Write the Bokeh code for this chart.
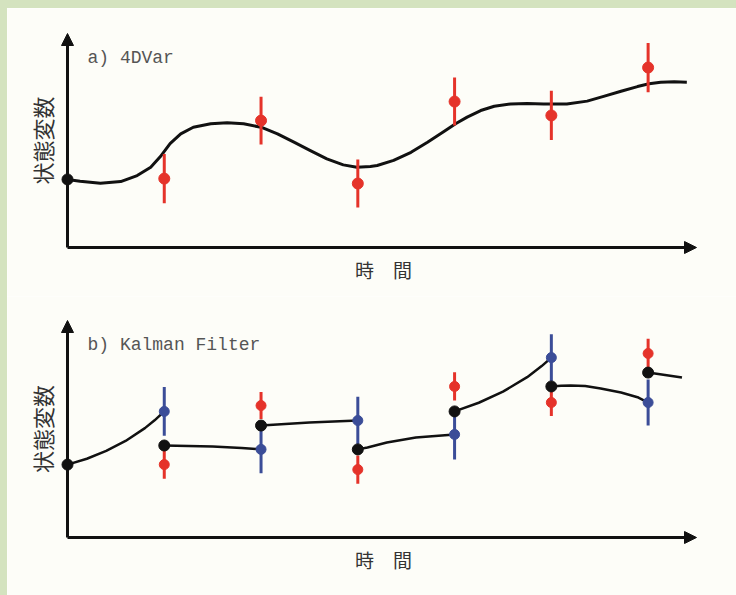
import math
from bokeh.plotting import figure
from bokeh.layouts import column, row
from bokeh.models import Range1d, Arrow, NormalHead, Label, Spacer
from bokeh.embed import file_html
from bokeh.resources import INLINE

# ---------------- data: panel a) 4DVar ----------------
a_curve_t = [0.00, 0.13, 0.34, 0.55, 0.72, 0.86, 0.96, 1.06, 1.17, 1.30, 1.48, 1.65, 1.82,
             2.00, 2.17, 2.34, 2.51, 2.68, 2.85, 2.99, 3.13, 3.20, 3.37, 3.55, 3.72, 3.89,
             4.01, 4.13, 4.27, 4.41, 4.58, 4.75, 4.92, 5.01, 5.16, 5.37, 5.54, 5.72, 5.89,
             6.01, 6.13, 6.27, 6.40]
a_curve_v = [3.18, 3.10, 3.00, 3.08, 3.36, 3.75, 4.25, 4.85, 5.31, 5.62, 5.78, 5.83, 5.78,
             5.62, 5.31, 4.92, 4.53, 4.14, 3.86, 3.75, 3.79, 3.83, 4.07, 4.45, 4.92, 5.42,
             5.78, 6.09, 6.40, 6.60, 6.71, 6.73, 6.71, 6.70, 6.71, 6.84, 7.06, 7.30, 7.52,
             7.65, 7.72, 7.74, 7.72]
a_start_t = [0]
a_start_v = [3.18]
a_obs_t = [1, 2, 3, 4, 5, 6]
a_obs_v = [3.22, 5.93, 2.99, 6.82, 6.17, 8.41]
a_obs_err = [1.15, 1.12, 1.12, 1.12, 1.15, 1.15]

# ---------------- data: panel b) Kalman Filter ----------------
b_start_t = [0]
b_start_v = [3.36]
b_t = [1, 2, 3, 4, 5, 6]
b_fcst_v = [5.81, 4.06, 5.39, 4.75, 8.29, 6.22]
b_fcst_err = [1.12, 1.1, 1.1, 1.15, 1.08, 1.06]
b_obs_v = [3.36, 6.08, 3.13, 6.96, 6.22, 8.48]
b_obs_err = [0.65, 0.62, 0.65, 0.65, 0.62, 0.68]
b_anal_v = [4.24, 5.16, 4.06, 5.81, 6.96, 7.60]
b_seg_t = [[0, 0.2, 0.4, 0.6, 0.8, 0.9, 1.0],
           [1, 1.5, 1.8, 2],
           [2, 2.5, 3],
           [3, 3.1, 3.3, 3.6, 4],
           [4, 4.25, 4.5, 4.75, 4.9, 5],
           [5, 5.1, 5.2, 5.35, 5.51, 5.72, 5.9, 6],
           [6, 6.35]]
b_seg_v = [[3.36, 3.63, 3.99, 4.45, 5.04, 5.40, 5.81],
           [4.24, 4.19, 4.13, 4.06],
           [5.16, 5.30, 5.39],
           [4.06, 4.15, 4.38, 4.61, 4.75],
           [5.81, 6.21, 6.72, 7.39, 7.90, 8.29],
           [6.96, 6.99, 7.0, 6.98, 6.87, 6.68, 6.45, 6.22],
           [7.60, 7.37]]

TITLES = ["a) 4DVar", "b) Kalman Filter"]
YLABEL = "状態変数"
XLABEL = "時\u3000間"

GREEN = "#d4e3bf"
BG = "#fdfdf8"
BLACK = "#111111"
RED = "#e5332a"
BLUE = "#3b4d98"
X_END = 6.5      # arrow tip of time axis
Y_END = 10       # arrow tip of state axis

FIG_W = 729
PX_PER_T = 96.77


def make_panel(height, origin_px, px_per_v, title):
    # origin_px: (x, y) pixel position of axis origin inside figure (y from top)
    ox, oy = origin_px
    x_rng = Range1d(-ox / PX_PER_T, (FIG_W - ox) / PX_PER_T)
    y_rng = Range1d(-(height - oy) / px_per_v, oy / px_per_v)
    p = figure(width=FIG_W, height=height, output_backend="svg", toolbar_location=None,
               x_range=x_rng, y_range=y_rng, min_border=0)
    p.background_fill_color = BG
    p.border_fill_color = BG
    p.outline_line_color = None
    p.grid.visible = False
    p.axis.visible = False

    head = dict(size=12, fill_color=BLACK, line_color=BLACK, line_width=1)
    p.add_layout(Arrow(end=NormalHead(**head), x_start=0, y_start=0, x_end=0, y_end=Y_END,
                       line_color=BLACK, line_width=3))
    p.add_layout(Arrow(end=NormalHead(**head), x_start=0, y_start=0, x_end=X_END, y_end=0,
                       line_color=BLACK, line_width=3))
    p.add_layout(Label(x=20 / PX_PER_T, y=Y_END - 24 / px_per_v, text=title,
                       text_font="Liberation Mono", text_font_size="18px",
                       text_color="#555555", text_baseline="middle"))
    p.add_layout(Label(x=-26 / PX_PER_T, y=Y_END / 2, text=YLABEL, angle=math.pi / 2,
                       text_font="Noto Sans CJK JP", text_font_size="22px",
                       text_color="#333333", text_align="center", text_baseline="middle"))
    p.add_layout(Label(x=316 / PX_PER_T, y=-22 / px_per_v, text=XLABEL,
                       text_font="Noto Sans CJK JP", text_font_size="19px",
                       text_color="#333333", text_align="center", text_baseline="middle"))
    return p


# ---- panel a ----
pa = make_panel(288, (60, 239), 21.4, TITLES[0])
pa.line(a_curve_t, a_curve_v, line_color=BLACK, line_width=3, line_join="round")
pa.segment(x0=a_obs_t, y0=[v - e for v, e in zip(a_obs_v, a_obs_err)],
           x1=a_obs_t, y1=[v + e for v, e in zip(a_obs_v, a_obs_err)],
           line_color=RED, line_width=3)
pa.scatter(a_obs_t, a_obs_v, size=11, fill_color=RED, line_color=RED)
pa.scatter(a_start_t, a_start_v, size=11, fill_color=BLACK, line_color=BLACK)

# ---- panel b ----
pb = make_panel(299, (60, 241), 21.7, TITLES[1])
pb.segment(x0=b_t, y0=[v - e for v, e in zip(b_fcst_v, b_fcst_err)],
           x1=b_t, y1=[v + e for v, e in zip(b_fcst_v, b_fcst_err)],
           line_color=BLUE, line_width=3)
pb.segment(x0=b_t, y0=[v - e for v, e in zip(b_obs_v, b_obs_err)],
           x1=b_t, y1=[v + e for v, e in zip(b_obs_v, b_obs_err)],
           line_color=RED, line_width=3)
pb.multi_line(b_seg_t, b_seg_v, line_color=BLACK, line_width=2.5, line_join="round")
pb.scatter(b_t, b_fcst_v, size=10, fill_color=BLUE, line_color=BLUE)
pb.scatter(b_t, b_obs_v, size=10, fill_color=RED, line_color=RED)
pb.scatter(b_t, b_anal_v, size=11, fill_color=BLACK, line_color=BLACK)
pb.scatter(b_start_t, b_start_v, size=11, fill_color=BLACK, line_color=BLACK)

top_band = Spacer(width=736, height=8, styles={"background-color": GREEN})
left_band = Spacer(width=7, height=587, styles={"background-color": GREEN})
layout = column(top_band, row(left_band, column(pa, pb, spacing=0), spacing=0), spacing=0)
open("out.html", "w").write(file_html(layout, INLINE))
